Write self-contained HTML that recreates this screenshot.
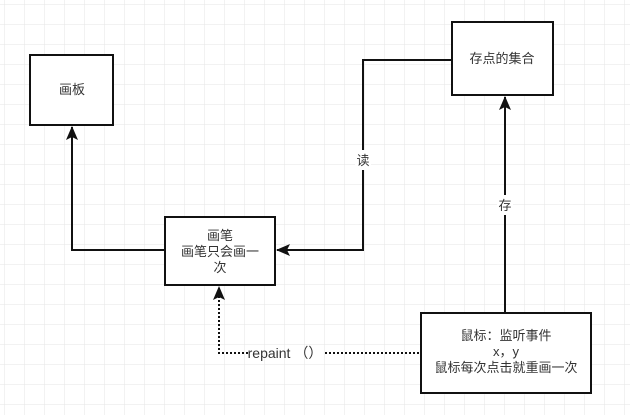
<!DOCTYPE html>
<html><head><meta charset="utf-8"><style>
body{margin:0;background:#fff;}
svg{display:block;font-family:"Liberation Sans","Noto Sans CJK SC",sans-serif;}
</style></head><body>
<svg width="630" height="415" viewBox="0 0 630 415" xmlns="http://www.w3.org/2000/svg">
<defs>
<pattern id="g" width="20" height="20" patternUnits="userSpaceOnUse" x="5" y="5">
<path d="M20 0V20M0 20H20" fill="none" stroke="#e6e6e6" stroke-width="1"/>
</pattern>
<marker id="a" markerWidth="14" markerHeight="12" refX="13" refY="6" orient="auto" markerUnits="userSpaceOnUse">
<path d="M0,0 L14,6 L0,12 L3,6 Z" fill="#111"/>
</marker>
</defs>
<rect width="630" height="415" fill="url(#g)"/>
<g fill="#fff" stroke="#111" stroke-width="2">
<rect x="30" y="55" width="83" height="70"/>
<rect x="452" y="22" width="101" height="73"/>
<rect x="165" y="217" width="110" height="68"/>
<rect x="421" y="313" width="170" height="80"/>
</g>
<g fill="none" stroke="#111" stroke-width="2">
<path d="M165 250H72V127" marker-end="url(#a)"/>
<path d="M452 60H363V250H277" marker-end="url(#a)"/>
<path d="M505 313V97" marker-end="url(#a)"/>
</g>
<g fill="none" stroke="#111" stroke-width="2" stroke-dasharray="2 2">
<path d="M248 353H219V287" marker-end="url(#a)"/>
<path d="M325 353H421"/>
</g>
<rect x="355" y="150" width="16" height="20" fill="#fff"/>
<rect x="497" y="195" width="16" height="20" fill="#fff"/>
<g font-size="13" fill="#333" text-anchor="middle">
<text x="72" y="94">画板</text>
<text x="502" y="63">存点的集合</text>
<text x="220" y="240">画笔</text>
<text x="220" y="256">画笔只会画一</text>
<text x="220" y="272">次</text>
<text x="506" y="340">鼠标：监听事件</text>
<text x="506" y="356">x，y</text>
<text x="506" y="372">鼠标每次点击就重画一次</text>
<text x="363" y="165">读</text>
<text x="505" y="210">存</text>
<text x="285" y="358" font-size="14">repaint （）</text>
</g>
</svg>
</body></html>
